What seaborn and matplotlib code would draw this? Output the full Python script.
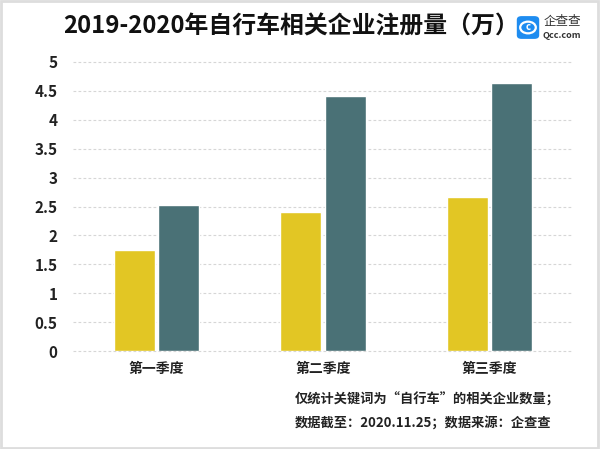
import matplotlib
matplotlib.use("Agg")
import matplotlib.pyplot as plt
from matplotlib.patches import FancyBboxPatch, Rectangle, Circle
import seaborn as sns
import pandas as pd

categories = ["第一季度", "第二季度", "第三季度"]
series_names = ["2019", "2020"]
values_2019 = [1.75, 2.41, 2.66]
values_2020 = [2.53, 4.41, 4.64]
y_ticks = [0, 0.5, 1, 1.5, 2, 2.5, 3, 3.5, 4, 4.5, 5]
y_tick_labels = ["0", "0.5", "1", "1.5", "2", "2.5", "3", "3.5", "4", "4.5", "5"]

df = pd.DataFrame({
    "季度": categories * 2,
    "年份": [series_names[0]] * 3 + [series_names[1]] * 3,
    "数量": values_2019 + values_2020,
})

sns.set_theme(style="white")
plt.rcParams["font.family"] = ["Noto Sans CJK SC", "DejaVu Sans"]

fig = plt.figure(figsize=(6.0, 4.49), dpi=100)
ax = fig.add_axes([73 / 600, 1 - 351 / 449, 500 / 600, (351 - 62) / 449])

sns.barplot(data=df, x="季度", y="数量", hue="年份", ax=ax,
            palette=["#E2C624", "#4A7176"], width=0.533, gap=0.08,
            saturation=1, legend=False)

ax.set_xlim(-0.5, 2.5)
ax.set_ylim(0, 5)
ax.set_yticks(y_ticks)
ax.set_yticklabels(y_tick_labels, fontsize=11, fontweight="bold", color="#222222")
ax.set_xticks(range(len(categories)))
ax.set_xticklabels(categories, fontsize=10, fontweight="bold", color="#222222")
ax.tick_params(axis="y", length=0, pad=11)
ax.tick_params(axis="x", length=0, pad=8)
ax.set_xlabel("")
ax.set_ylabel("")
for s in ax.spines.values():
    s.set_visible(False)
ax.yaxis.grid(True, linestyle=(0, (2.5, 2)), color="#d6d6d6", linewidth=0.8)
ax.set_axisbelow(True)
for line in ax.get_ygridlines():
    line.set_clip_on(False)

fig.text(63 / 600, 1 - 27 / 449, "2019-2020年自行车相关企业注册量（万）",
         fontsize=17.2, fontweight="bold", color="#111111", va="center", ha="left")

# logo
logo = FancyBboxPatch((518 / 600, 1 - 38 / 449), 20 / 600, 21 / 449,
                      boxstyle="round,pad=0.002,rounding_size=0.008",
                      transform=fig.transFigure, facecolor="#1E8CF0", edgecolor="none")
fig.patches.append(logo)
ring = Circle((528 / 600, 1 - 27.5 / 449), 0.013, transform=fig.transFigure,
              fill=False, edgecolor="white", linewidth=1.6)
fig.patches.append(ring)
fig.text(528 / 600, 1 - 27.5 / 449, "c", fontsize=7, fontweight="bold", color="white",
         ha="center", va="center")
fig.text(562 / 600, 1 - 21 / 449, "企查查", fontsize=9, color="#333333",
         ha="center", va="center")
fig.text(562 / 600, 1 - 35 / 449, "Qcc.com", fontsize=6.5, color="#333333",
         ha="center", va="center", fontweight="bold")

fig.text(295 / 600, 1 - 400 / 449, "仅统计关键词为“自行车”的相关企业数量；",
         fontsize=9.5, fontweight="bold", color="#222222", ha="left", va="center")
fig.text(295 / 600, 1 - 423 / 449, "数据截至：2020.11.25；数据来源：企查查",
         fontsize=9.5, fontweight="bold", color="#222222", ha="left", va="center")

border = Rectangle((0.002, 0.003), 0.994, 0.995, transform=fig.transFigure,
                   fill=False, edgecolor="#dddddd", linewidth=2)
fig.patches.append(border)

fig.savefig("out.png", dpi=100)
